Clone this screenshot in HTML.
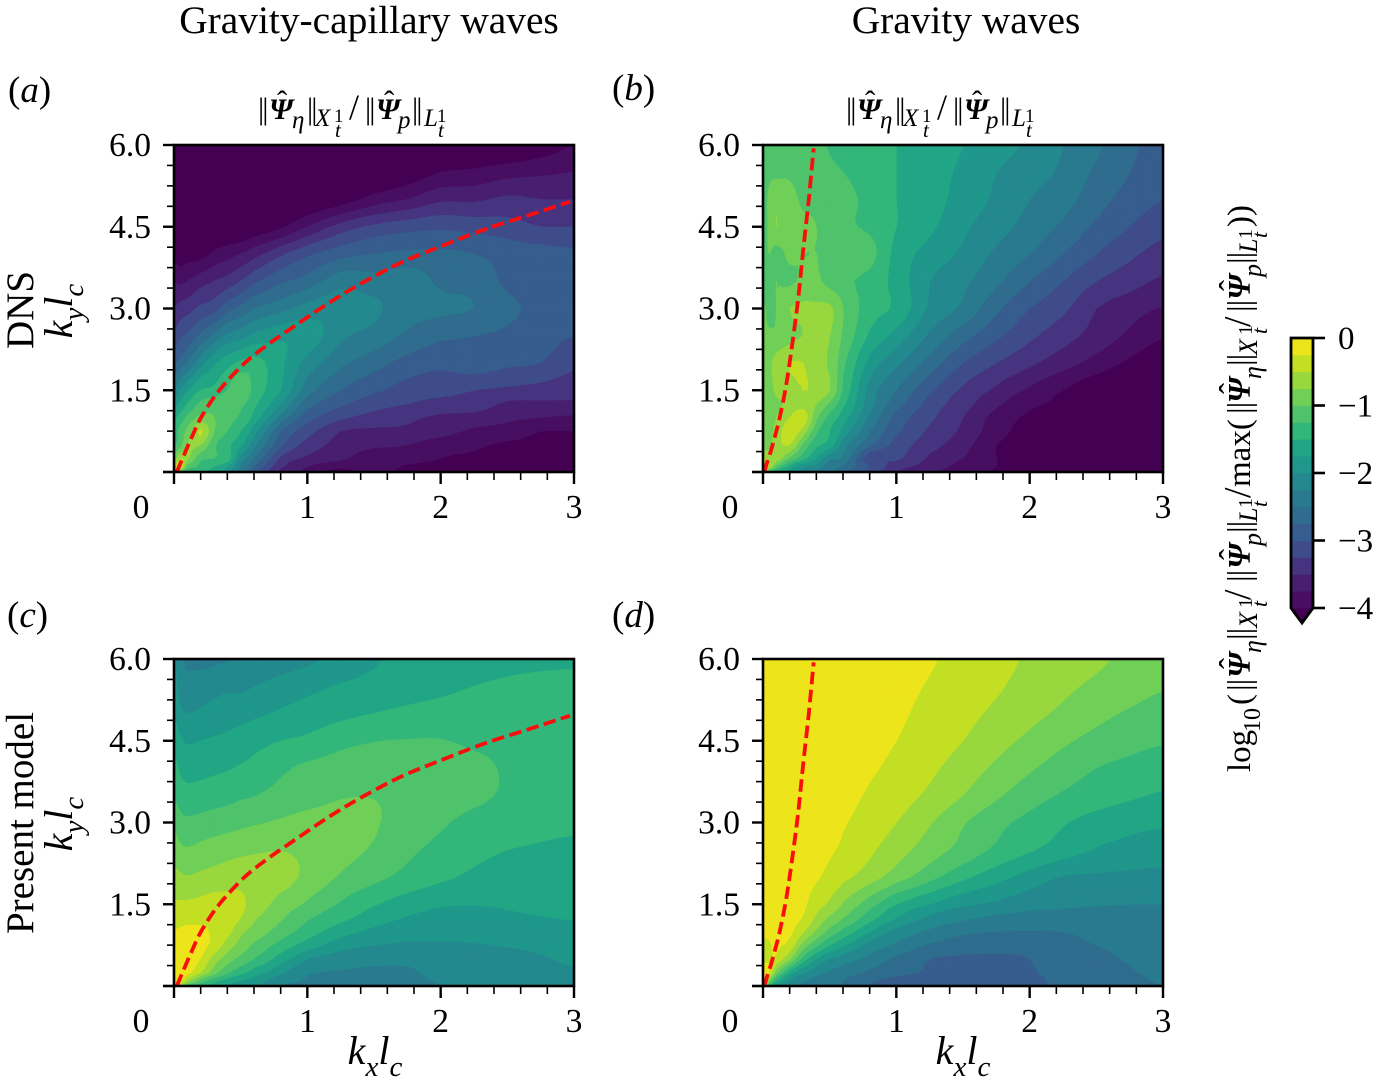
<!DOCTYPE html>
<html>
<head>
<meta charset="utf-8">
<title>Gravity-capillary and gravity wave contour panels</title>
<style>
html,body{margin:0;padding:0;background:#fff;}
svg{display:block;}
text{font-family:"Liberation Serif","DejaVu Serif",serif;fill:#000;}
.i{font-style:italic;}
.bi{font-style:italic;font-weight:bold;}
</style>
</head>
<body>
<svg id="figure" xmlns="http://www.w3.org/2000/svg" width="1373" height="1089" viewBox="0 0 1373 1089">
  <rect width="1373" height="1089" fill="#fff"/>
  <g id="panels"></g>
  <g id="colorbar"></g>

  <text x="369" y="33" font-size="39.4" text-anchor="middle">Gravity-capillary waves</text>
  <text x="966" y="33" font-size="39.4" text-anchor="middle">Gravity waves</text>

  <text x="8" y="102" font-size="37">(<tspan class="i">a</tspan>)</text>
  <text x="612" y="100" font-size="37">(<tspan class="i">b</tspan>)</text>
  <text x="7" y="627" font-size="37">(<tspan class="i">c</tspan>)</text>
  <text x="612" y="627" font-size="37">(<tspan class="i">d</tspan>)</text>

  <text transform="translate(258,119)" font-size="31"><tspan x="0" y="0" letter-spacing="-2">||</tspan><tspan class="bi" x="11" y="0" font-size="30">Ψ</tspan><tspan x="19" y="-7">ˆ</tspan><tspan class="i" x="34" y="9" font-size="25">η</tspan><tspan x="49" y="0" letter-spacing="-2">||</tspan><tspan class="i" x="57" y="7" font-size="25">X</tspan><tspan x="76" y="3" font-size="19">1</tspan><tspan class="i" x="77" y="18" font-size="21">t</tspan><tspan x="91" y="0" font-size="36">/</tspan><tspan x="107" y="0" letter-spacing="-2">||</tspan><tspan class="bi" x="118" y="0" font-size="30">Ψ</tspan><tspan x="126" y="-7">ˆ</tspan><tspan class="i" x="140" y="9" font-size="25">p</tspan><tspan x="154" y="0" letter-spacing="-2">||</tspan><tspan class="i" x="166" y="7" font-size="25">L</tspan><tspan x="179" y="3" font-size="19">1</tspan><tspan class="i" x="180" y="18" font-size="21">t</tspan></text>
  <text transform="translate(846,119)" font-size="31"><tspan x="0" y="0" letter-spacing="-2">||</tspan><tspan class="bi" x="11" y="0" font-size="30">Ψ</tspan><tspan x="19" y="-7">ˆ</tspan><tspan class="i" x="34" y="9" font-size="25">η</tspan><tspan x="49" y="0" letter-spacing="-2">||</tspan><tspan class="i" x="57" y="7" font-size="25">X</tspan><tspan x="76" y="3" font-size="19">1</tspan><tspan class="i" x="77" y="18" font-size="21">t</tspan><tspan x="91" y="0" font-size="36">/</tspan><tspan x="107" y="0" letter-spacing="-2">||</tspan><tspan class="bi" x="118" y="0" font-size="30">Ψ</tspan><tspan x="126" y="-7">ˆ</tspan><tspan class="i" x="140" y="9" font-size="25">p</tspan><tspan x="154" y="0" letter-spacing="-2">||</tspan><tspan class="i" x="166" y="7" font-size="25">L</tspan><tspan x="179" y="3" font-size="19">1</tspan><tspan class="i" x="180" y="18" font-size="21">t</tspan></text>

  <text transform="translate(33,310) rotate(-90)" font-size="39" text-anchor="middle">DNS</text>
  <text transform="translate(33,823) rotate(-90)" font-size="39" text-anchor="middle">Present model</text>

  <text transform="translate(72,311) rotate(-90)" font-size="40" text-anchor="middle" class="i">k<tspan font-size="29" dy="11">y</tspan><tspan dy="-11">l</tspan><tspan font-size="29" dy="11">c</tspan></text>
  <text transform="translate(72,824) rotate(-90)" font-size="40" text-anchor="middle" class="i">k<tspan font-size="29" dy="11">y</tspan><tspan dy="-11">l</tspan><tspan font-size="29" dy="11">c</tspan></text>
  <text x="375" y="1064" font-size="40" text-anchor="middle" class="i">k<tspan font-size="29" dy="12">x</tspan><tspan dy="-12">l</tspan><tspan font-size="29" dy="12">c</tspan></text>
  <text x="963" y="1064" font-size="40" text-anchor="middle" class="i">k<tspan font-size="29" dy="12">x</tspan><tspan dy="-12">l</tspan><tspan font-size="29" dy="12">c</tspan></text>

  <text transform="translate(1250,772) rotate(-90)" font-size="33"><tspan x="0" y="0">log</tspan><tspan x="40" y="10" font-size="24">10</tspan><tspan x="67" y="0">(</tspan><tspan x="81" y="0" letter-spacing="-1">||</tspan><tspan class="bi" x="94" y="0" font-size="32">Ψ</tspan><tspan x="103" y="-8">ˆ</tspan><tspan class="i" x="119" y="11" font-size="26">η</tspan><tspan x="132" y="0" letter-spacing="-1">||</tspan><tspan class="i" x="144" y="7" font-size="26">X</tspan><tspan x="164" y="2" font-size="20">1</tspan><tspan class="i" x="165" y="17" font-size="22">t</tspan><tspan x="172" y="0" font-size="38">/</tspan><tspan x="190" y="0" letter-spacing="-1">||</tspan><tspan class="bi" x="203" y="0" font-size="32">Ψ</tspan><tspan x="212" y="-8">ˆ</tspan><tspan class="i" x="226" y="11" font-size="26">p</tspan><tspan x="239" y="0" letter-spacing="-1">||</tspan><tspan class="i" x="250" y="7" font-size="26">L</tspan><tspan x="264" y="2" font-size="20">1</tspan><tspan class="i" x="265" y="17" font-size="22">t</tspan><tspan x="274" y="0" font-size="38">/</tspan><tspan x="285" y="0">max(</tspan><tspan x="358" y="0" letter-spacing="-1">||</tspan><tspan class="bi" x="369" y="0" font-size="32">Ψ</tspan><tspan x="378" y="-8">ˆ</tspan><tspan class="i" x="393" y="11" font-size="26">η</tspan><tspan x="406" y="0" letter-spacing="-1">||</tspan><tspan class="i" x="417" y="7" font-size="26">X</tspan><tspan x="437" y="2" font-size="20">1</tspan><tspan class="i" x="438" y="17" font-size="22">t</tspan><tspan x="445" y="0" font-size="38">/</tspan><tspan x="460" y="0" letter-spacing="-1">||</tspan><tspan class="bi" x="472" y="0" font-size="32">Ψ</tspan><tspan x="481" y="-8">ˆ</tspan><tspan class="i" x="495" y="11" font-size="26">p</tspan><tspan x="508" y="0" letter-spacing="-1">||</tspan><tspan class="i" x="519" y="7" font-size="26">L</tspan><tspan x="533" y="2" font-size="20">1</tspan><tspan class="i" x="534" y="17" font-size="22">t</tspan><tspan x="545" y="0">))</tspan></text>
</svg>

<script>
// ---- Grid coordinates (k_x l_c, k_y l_c) ----
const kxGrid = [0,.05,.1,.2,.3,.4,.5,.6,.8,1,1.25,1.5,1.75,2,2.25,2.5,2.75,3];
const kyGrid = [0,.1,.25,.5,.75,1,1.25,1.5,2,2.5,3,3.5,4,4.5,5,5.5,6];

// ---- Contour levels and colours ----
const contourLevels = [-4,-3.75,-3.5,-3.25,-3,-2.75,-2.5,-2.25,-2,-1.75,-1.5,-1.25,-1,-.75,-.5,-.25];
const bandColors = ['#470e61','#481f70','#463480','#3e4c8a','#365d8d','#2f6c8e','#297a8e','#23898e','#1f978b','#21a685','#33b67a','#4ec36b','#70cf57','#98d83e','#c2df23','#ede51b'];
const underColor = '#440154';

// ---- Tick values ----
const xTickValues = [0,1,2,3];
const xTickLabels = ['0','1','2','3'];
const xMinorTicks = [.2,.4,.6,.8,1.2,1.4,1.6,1.8,2.2,2.4,2.6,2.8];
const yTickValues = [1.5,3,4.5,6];
const yTickLabels = ['1.5','3.0','4.5','6.0'];
const yMinorTicks = [.375,.75,1.125,1.875,2.25,2.625,3.375,3.75,4.125,4.875,5.25,5.625];
const colorbarTickValues = [0,-1,-2,-3,-4];
const colorbarTickLabels = ['0','−1','−2','−3','−4'];

// ---- Dispersion-curve series ----
const capillaryCurveKx = [.02,.04,.126,.21,.34,.53,.7,.87,1.16,1.42,1.71,1.99,2.34,2.71,2.97];
const capillaryCurveKy = [0,.11,.6,1.03,1.5,2.0,2.33,2.62,3.1,3.48,3.85,4.13,4.46,4.75,4.96];
const gravityCurveKx = [.01,.03,.057,.09,.13,.186,.258,.3,.344,.38];
const gravityCurveKy = [0,.17,.37,.66,1.05,1.78,3.06,4.04,5.02,5.94];

// ---- Panel (a) DNS, gravity-capillary: log10 values, one row per kyGrid ----
const panelAValues = [
[-.5,-1.2,-1.4,-1.5,-1.6,-1.9,-2.4,-2.9,-3.6,-3.8,-4.1,-3.9,-4.1,-4.1,-4.2,-4.2,-4.1,-4.2],
[-.6,-.35,-1.1,-1.3,-1.5,-1.75,-2.3,-2.75,-3.45,-3.75,-3.95,-3.8,-4.05,-4.1,-4.15,-4.15,-4.1,-4.2],
[-.9,-.55,-.7,-1.2,-1.25,-1.35,-2.1,-2.5,-3.3,-3.55,-3.7,-3.9,-3.85,-4.0,-4.05,-4.15,-4.1,-4.1],
[-1.3,-1.1,-.75,-.75,-1.2,-1.45,-1.7,-2.2,-2.95,-3.35,-3.6,-3.7,-3.75,-3.9,-3.95,-4.05,-4.05,-4.1],
[-1.4,-1.15,-.95,-.45,-1.0,-1.25,-1.5,-1.9,-2.75,-3.15,-3.5,-3.55,-3.55,-3.65,-3.8,-3.85,-4.0,-4.0],
[-1.55,-1.4,-1.2,-.95,-1.0,-1.15,-1.3,-1.6,-2.35,-2.9,-3.2,-3.35,-3.45,-3.55,-3.6,-3.7,-3.75,-3.8],
[-1.9,-1.7,-1.5,-1.2,-1.1,-1.1,-1.2,-1.45,-2.0,-2.65,-2.95,-3.15,-3.25,-3.35,-3.35,-3.55,-3.55,-3.55],
[-2.3,-2.0,-1.8,-1.5,-1.45,-1.25,-1.0,-1.35,-1.75,-2.4,-2.75,-2.95,-3.1,-3.15,-3.25,-3.3,-3.35,-3.4],
[-2.8,-2.65,-2.5,-2.1,-1.8,-1.6,-1.45,-1.4,-1.7,-2.1,-2.45,-2.65,-2.85,-2.95,-2.85,-2.95,-3.0,-3.2],
[-3.2,-3.05,-2.95,-2.7,-2.45,-2.2,-2.1,-1.95,-1.8,-1.85,-2.2,-2.35,-2.55,-2.7,-2.75,-2.8,-2.9,-3.0],
[-3.5,-3.4,-3.35,-3.2,-3.1,-2.85,-2.7,-2.5,-2.35,-2.15,-2.1,-2.2,-2.4,-2.45,-2.5,-2.7,-2.8,-2.88],
[-3.75,-3.8,-3.75,-3.6,-3.5,-3.4,-3.25,-3.05,-2.8,-2.65,-2.35,-2.4,-2.35,-2.55,-2.6,-2.8,-2.85,-2.9],
[-4.1,-4.15,-4.1,-4.1,-3.95,-3.85,-3.75,-3.6,-3.3,-3.05,-2.85,-2.75,-2.7,-2.7,-2.75,-2.85,-2.9,-2.95],
[-4.3,-4.3,-4.3,-4.3,-4.3,-4.3,-4.3,-4.2,-4.05,-3.75,-3.4,-3.2,-3.1,-3.05,-3.1,-3.15,-3.25,-3.25],
[-4.4,-4.4,-4.4,-4.4,-4.4,-4.4,-4.4,-4.4,-4.4,-4.3,-4.15,-3.9,-3.75,-3.55,-3.55,-3.45,-3.5,-3.5],
[-4.5,-4.5,-4.5,-4.5,-4.5,-4.5,-4.5,-4.5,-4.5,-4.5,-4.4,-4.3,-4.2,-4.0,-3.95,-3.85,-3.8,-3.75],
[-4.5,-4.5,-4.5,-4.5,-4.5,-4.5,-4.5,-4.5,-4.5,-4.5,-4.5,-4.5,-4.5,-4.4,-4.3,-4.3,-4.15,-4.0]
];

// ---- Panel (b) DNS, gravity ----
const panelBValues = [
[-.5,-1.3,-1.6,-1.9,-2.05,-2.3,-2.4,-2.7,-3.1,-3.5,-3.75,-3.85,-4.05,-4.15,-4.2,-4.3,-4.3,-4.3],
[-.4,-.55,-1.1,-1.6,-2.0,-2.1,-2.4,-2.55,-3.0,-3.4,-3.6,-3.85,-4.0,-4.1,-4.2,-4.25,-4.3,-4.3],
[-.5,-.6,-.6,-1.05,-1.4,-1.75,-2.2,-2.3,-3.2,-3.2,-3.55,-3.75,-4.0,-4.1,-4.2,-4.25,-4.3,-4.3],
[-1.0,-.8,-.6,-.5,-1.05,-1.45,-1.6,-2.15,-2.7,-3.1,-3.4,-3.65,-4.0,-4.1,-4.2,-4.25,-4.3,-4.3],
[-1.0,-.85,-.65,-.35,-.6,-1.2,-1.5,-1.85,-2.5,-2.95,-3.3,-3.55,-3.9,-4.1,-4.15,-4.25,-4.3,-4.3],
[-1.0,-.9,-.75,-.5,-.35,-.95,-1.35,-1.65,-2.3,-2.85,-3.2,-3.5,-3.85,-4.05,-4.15,-4.3,-4.3,-4.3],
[-1.0,-.9,-.8,-.7,-.6,-.75,-1.05,-1.45,-2.15,-2.65,-3.1,-3.4,-3.7,-3.95,-4.05,-4.2,-4.3,-4.3],
[-.95,-.85,-.7,-.6,-.5,-.55,-.75,-1.3,-2.1,-2.5,-2.95,-3.3,-3.55,-3.8,-4.0,-4.2,-4.25,-4.3],
[-.9,-.8,-.65,-.5,-.5,-.65,-.8,-1.2,-1.85,-2.2,-2.6,-3.0,-3.25,-3.45,-3.65,-3.85,-4.05,-4.2],
[-.95,-.95,-.95,-.85,-.75,-.65,-.75,-1.05,-1.55,-1.85,-2.3,-2.65,-2.95,-3.2,-3.4,-3.6,-3.8,-3.98],
[-.95,-1.1,-1.0,-.75,-.7,-.7,-.7,-1.0,-1.4,-1.55,-2.05,-2.3,-2.7,-3.0,-3.2,-3.5,-3.65,-3.77],
[-1.1,-1.05,-1.0,-1.05,-.95,-.95,-1.1,-1.2,-1.35,-1.6,-2.0,-2.2,-2.45,-2.75,-3.0,-3.25,-3.4,-3.55],
[-1.05,-1.0,-1.1,-.95,-1.0,-1.0,-1.05,-1.1,-1.15,-1.6,-1.85,-2.05,-2.3,-2.5,-2.75,-3.0,-3.2,-3.35],
[-1.1,-.95,-.75,-.9,-.95,-1.0,-1.05,-1.2,-1.3,-1.5,-1.7,-1.95,-2.15,-2.35,-2.55,-2.8,-3.0,-3.18],
[-1.1,-.95,-.85,-.9,-1.05,-1.05,-1.1,-1.2,-1.3,-1.5,-1.65,-1.85,-2.05,-2.25,-2.4,-2.65,-2.85,-3.0],
[-1.15,-1.05,-1.05,-1.05,-1.15,-1.15,-1.2,-1.25,-1.35,-1.5,-1.65,-1.8,-2.0,-2.15,-2.3,-2.55,-2.75,-2.9],
[-1.2,-1.2,-1.18,-1.15,-1.2,-1.2,-1.27,-1.35,-1.4,-1.5,-1.6,-1.75,-1.9,-2.05,-2.25,-2.45,-2.7,-2.85]
];

// ---- Panel (c) present model, gravity-capillary ----
const panelCValues = [
[-.05,-.7,-1.1,-1.4,-1.6,-1.75,-1.85,-1.95,-2.25,-2.33,-2.36,-2.4,-2.38,-2.25,-2.2,-2.15,-2.12,-2.1],
[-.05,-.2,-.6,-1.1,-1.4,-1.6,-1.75,-1.85,-2.15,-2.27,-2.32,-2.36,-2.34,-2.22,-2.17,-2.12,-2.1,-2.08],
[-.08,-.1,-.17,-.5,-.9,-1.2,-1.42,-1.62,-1.95,-2.22,-2.27,-2.3,-2.28,-2.18,-2.12,-2.08,-2.05,-2.03],
[-.12,-.12,-.13,-.26,-.62,-.88,-1.08,-1.26,-1.62,-2.0,-2.13,-2.18,-2.2,-2.2,-2.18,-2.12,-2.03,-1.96],
[-.17,-.16,-.15,-.18,-.33,-.62,-.85,-1.05,-1.35,-1.62,-1.9,-2.0,-2.03,-2.03,-2.02,-1.98,-1.92,-1.88],
[-.24,-.22,-.2,-.2,-.3,-.42,-.7,-.85,-1.12,-1.38,-1.65,-1.82,-1.93,-1.94,-1.92,-1.88,-1.83,-1.8],
[-.36,-.34,-.32,-.33,-.32,-.36,-.5,-.72,-.97,-1.22,-1.43,-1.62,-1.77,-1.83,-1.84,-1.79,-1.76,-1.74],
[-.47,-.47,-.46,-.44,-.4,-.42,-.46,-.6,-.85,-1.04,-1.28,-1.48,-1.62,-1.72,-1.74,-1.72,-1.7,-1.69],
[-.67,-.71,-.74,-.7,-.66,-.62,-.58,-.6,-.64,-.82,-1.03,-1.18,-1.33,-1.45,-1.55,-1.6,-1.63,-1.65],
[-.87,-.95,-.98,-.93,-.89,-.85,-.82,-.79,-.76,-.82,-.92,-1.03,-1.2,-1.32,-1.43,-1.5,-1.54,-1.58],
[-1.05,-1.17,-1.2,-1.17,-1.13,-1.1,-1.06,-1.03,-.97,-.92,-.92,-.98,-1.1,-1.22,-1.32,-1.35,-1.4,-1.43],
[-1.28,-1.38,-1.42,-1.4,-1.37,-1.34,-1.29,-1.26,-1.17,-1.1,-1.02,-1.01,-1.07,-1.13,-1.2,-1.28,-1.33,-1.36],
[-1.42,-1.55,-1.6,-1.58,-1.55,-1.52,-1.48,-1.43,-1.3,-1.2,-1.15,-1.12,-1.12,-1.13,-1.18,-1.28,-1.33,-1.36],
[-1.58,-1.72,-1.78,-1.75,-1.72,-1.68,-1.63,-1.58,-1.5,-1.45,-1.32,-1.26,-1.24,-1.24,-1.3,-1.34,-1.38,-1.4],
[-1.77,-1.95,-2.0,-1.97,-1.93,-1.9,-1.85,-1.8,-1.72,-1.65,-1.57,-1.5,-1.45,-1.42,-1.4,-1.4,-1.42,-1.43],
[-1.88,-2.13,-2.16,-2.1,-2.07,-2.04,-2.05,-2.0,-1.9,-1.82,-1.73,-1.67,-1.6,-1.55,-1.5,-1.47,-1.46,-1.46],
[-1.98,-2.2,-2.3,-2.33,-2.3,-2.27,-2.23,-2.22,-2.13,-2.05,-1.93,-1.78,-1.7,-1.64,-1.58,-1.55,-1.53,-1.52]
];

// ---- Panel (d) present model, gravity ----
const panelDValues = [
[-.1,-1.4,-1.9,-2.15,-2.3,-2.4,-2.45,-2.5,-2.75,-2.82,-2.88,-2.9,-2.88,-2.82,-2.7,-2.62,-2.56,-2.5],
[-.1,-.9,-1.5,-2.0,-2.22,-2.35,-2.43,-2.5,-2.72,-2.82,-2.88,-2.9,-2.88,-2.82,-2.68,-2.6,-2.55,-2.48],
[-.15,-.3,-.9,-1.6,-1.95,-2.15,-2.28,-2.38,-2.55,-2.68,-2.78,-2.84,-2.84,-2.78,-2.65,-2.58,-2.52,-2.44],
[-.3,-.28,-.32,-.75,-1.35,-1.75,-2.0,-2.13,-2.33,-2.55,-2.75,-2.79,-2.79,-2.75,-2.6,-2.54,-2.48,-2.4],
[-.3,-.27,-.22,-.35,-.85,-1.2,-1.5,-1.72,-2.1,-2.3,-2.53,-2.63,-2.67,-2.67,-2.57,-2.5,-2.45,-2.37],
[-.2,-.2,-.15,-.2,-.48,-.8,-1.1,-1.33,-1.75,-2.08,-2.3,-2.45,-2.5,-2.51,-2.5,-2.42,-2.37,-2.32],
[-.15,-.15,-.12,-.15,-.27,-.55,-.8,-1.0,-1.4,-1.75,-2.05,-2.2,-2.3,-2.35,-2.3,-2.3,-2.3,-2.28],
[-.1,-.1,-.1,-.12,-.2,-.4,-.55,-.78,-1.15,-1.5,-1.75,-1.95,-2.05,-2.15,-2.22,-2.24,-2.25,-2.25],
[-.08,-.08,-.08,-.1,-.14,-.22,-.33,-.44,-.64,-.88,-1.17,-1.44,-1.66,-1.86,-2.02,-2.04,-2.06,-2.08],
[-.06,-.06,-.07,-.08,-.11,-.16,-.22,-.3,-.46,-.65,-.88,-1.09,-1.3,-1.47,-1.62,-1.77,-1.83,-1.87],
[-.05,-.05,-.05,-.06,-.08,-.12,-.17,-.23,-.36,-.5,-.73,-.98,-1.18,-1.33,-1.48,-1.6,-1.68,-1.72],
[-.04,-.04,-.05,-.06,-.08,-.1,-.14,-.18,-.28,-.39,-.55,-.75,-.96,-1.14,-1.28,-1.38,-1.46,-1.53],
[-.04,-.04,-.04,-.05,-.06,-.08,-.11,-.14,-.22,-.31,-.45,-.62,-.8,-.97,-1.12,-1.25,-1.32,-1.37],
[-.03,-.03,-.04,-.04,-.05,-.07,-.09,-.12,-.18,-.25,-.37,-.5,-.66,-.81,-.96,-1.08,-1.17,-1.23],
[-.03,-.03,-.03,-.04,-.05,-.06,-.08,-.1,-.14,-.21,-.32,-.43,-.55,-.68,-.8,-.93,-1.03,-1.1],
[-.02,-.02,-.03,-.03,-.04,-.05,-.07,-.09,-.12,-.18,-.27,-.37,-.47,-.59,-.7,-.8,-.9,-.98],
[-.02,-.02,-.02,-.03,-.04,-.05,-.06,-.08,-.1,-.16,-.23,-.32,-.43,-.53,-.62,-.71,-.8,-.87]
];

// ---- Rendering ----
const SVG_NS = 'http://www.w3.org/2000/svg';
const panelsRoot = document.getElementById('panels');
const colorbarRoot = document.getElementById('colorbar');
const KX_MAX = 3, KY_MAX = 6, REFINE = 3;

function mk(tag, attrs, parent) {
  const el = document.createElementNS(SVG_NS, tag);
  for (const k in attrs) el.setAttribute(k, attrs[k]);
  parent.appendChild(el);
  return el;
}

// Catmull-Rom interpolation of a sequence at fractional index.
function crAt(seq, t) {
  const n = seq.length;
  const i = Math.min(Math.floor(t), n - 2);
  const f = t - i;
  const p1 = seq[i], p2 = seq[i + 1];
  if (f === 0) return p1;
  const p0 = i > 0 ? seq[i - 1] : p1;
  const p3 = i + 2 < n ? seq[i + 2] : p2;
  const v = 0.5 * ((2 * p1) + (-p0 + p2) * f + (2 * p0 - 5 * p1 + 4 * p2 - p3) * f * f + (-p0 + 3 * p1 - 3 * p2 + p3) * f * f * f);
  const lo = Math.min(p1, p2) - 0.08, hi = Math.max(p1, p2) + 0.08;
  return Math.max(lo, Math.min(hi, v));
}

function linAt(seq, t) {
  const i = Math.min(Math.floor(t), seq.length - 2);
  return seq[i] + (t - i) * (seq[i + 1] - seq[i]);
}

function refineGrid(values) {
  const nx = (kxGrid.length - 1) * REFINE + 1;
  const ny = (kyGrid.length - 1) * REFINE + 1;
  const xs = [], ys = [];
  for (let i = 0; i < nx; i++) xs.push(linAt(kxGrid, i / REFINE));
  for (let j = 0; j < ny; j++) ys.push(linAt(kyGrid, j / REFINE));
  const rowsFine = values.map(row => xs.map((_, i) => crAt(row, i / REFINE)));
  const vals = [];
  for (let j = 0; j < ny; j++) {
    const line = [];
    for (let i = 0; i < nx; i++) line.push(crAt(rowsFine.map(r => r[i]), j / REFINE));
    vals.push(line);
  }
  return { xs: xs, ys: ys, vals: vals };
}

function clipTriangle(tri, level) {
  const out = [];
  for (let i = 0; i < tri.length; i++) {
    const a = tri[i], b = tri[(i + 1) % tri.length];
    const aIn = a[2] >= level, bIn = b[2] >= level;
    if (aIn) out.push(a);
    if (aIn !== bIn) {
      const t = (level - a[2]) / (b[2] - a[2]);
      out.push([a[0] + t * (b[0] - a[0]), a[1] + t * (b[1] - a[1]), level]);
    }
  }
  return out;
}

function bandPath(grid, level, nextLevel, xScale, yScale) {
  const parts = [];
  const addTri = (tri) => {
    if (nextLevel !== undefined && tri[0][2] >= nextLevel + .02 && tri[1][2] >= nextLevel + .02 && tri[2][2] >= nextLevel + .02) return;
    const poly = clipTriangle(tri, level);
    if (poly.length < 3) return;
    parts.push('M' + poly.map(p => xScale(p[0]).toFixed(1) + ' ' + yScale(p[1]).toFixed(1)).join('L') + 'Z');
  };
  for (let j = 0; j < grid.ys.length - 1; j++) {
    for (let i = 0; i < grid.xs.length - 1; i++) {
      const p00 = [grid.xs[i], grid.ys[j], grid.vals[j][i]];
      const p10 = [grid.xs[i + 1], grid.ys[j], grid.vals[j][i + 1]];
      const p01 = [grid.xs[i], grid.ys[j + 1], grid.vals[j + 1][i]];
      const p11 = [grid.xs[i + 1], grid.ys[j + 1], grid.vals[j + 1][i + 1]];
      addTri([p00, p10, p11]);
      addTri([p00, p11, p01]);
    }
  }
  return parts.join('');
}

function smoothCurve(px, py) {
  let d = 'M' + px[0].toFixed(1) + ' ' + py[0].toFixed(1);
  for (let i = 0; i < px.length - 1; i++) {
    const x0 = px[Math.max(i - 1, 0)], y0 = py[Math.max(i - 1, 0)];
    const x3 = px[Math.min(i + 2, px.length - 1)], y3 = py[Math.min(i + 2, px.length - 1)];
    const c1x = px[i] + (px[i + 1] - x0) / 6, c1y = py[i] + (py[i + 1] - y0) / 6;
    const c2x = px[i + 1] - (x3 - px[i]) / 6, c2y = py[i + 1] - (y3 - py[i]) / 6;
    d += 'C' + [c1x, c1y, c2x, c2y, px[i + 1], py[i + 1]].map(n => n.toFixed(1)).join(' ');
  }
  return d;
}

function drawPanel(id, left, top, values, curveX, curveY, zeroLabelX) {
  const W = 400, H = 327;
  const xScale = (k) => left + k / KX_MAX * W;
  const yScale = (k) => top + H - k / KY_MAX * H;

  const g = mk('g', {}, panelsRoot);
  
  

  const clip = mk('clipPath', { id: 'clip-' + id }, g);
  mk('rect', { x: left, y: top, width: W, height: H }, clip);

  const field = mk('g', { 'clip-path': 'url(#clip-' + id + ')' }, g);
  
  

  const under = mk('rect', { x: left, y: top, width: W, height: H, fill: underColor }, field);
  
  

  const grid = refineGrid(values);
  contourLevels.forEach((level, idx) => {
    const d = bandPath(grid, level, contourLevels[idx + 1], xScale, yScale);
    if (!d) return;
    const band = mk('path', { d: d, fill: bandColors[idx], stroke: bandColors[idx], 'stroke-width': 0.7, 'stroke-linejoin': 'round' }, field);
    
    
  });

  const curve = mk('path', { d: smoothCurve(curveX.map(xScale), curveY.map(yScale)), fill: 'none', stroke: '#fb0d0d', 'stroke-width': 3.8, 'stroke-dasharray': '12.5 5.5' }, field);
  
  

  const spine = mk('rect', { x: left, y: top, width: W, height: H, fill: 'none', stroke: '#000', 'stroke-width': 2.6 }, g);
  
  

  const bottom = top + H;
  xTickValues.forEach((v, i) => {
    const x = xScale(v);
    const tick = mk('line', { x1: x, x2: x, y1: bottom, y2: bottom + 12, stroke: '#000', 'stroke-width': 2.4 }, g);
    
    
    const label = mk('text', { x: i === 0 ? zeroLabelX : x, y: bottom + 46, 'font-size': 33.5, 'text-anchor': 'middle' }, g);
    
    
    label.textContent = xTickLabels[i];
  });
  xMinorTicks.forEach((v) => {
    const x = xScale(v);
    const tick = mk('line', { x1: x, x2: x, y1: bottom, y2: bottom + 8, stroke: '#000', 'stroke-width': 1.6 }, g);
    
    
  });
  const originTick = mk('line', { x1: left - 11, x2: left, y1: bottom, y2: bottom, stroke: '#000', 'stroke-width': 2.6 }, g);
  
  
  yTickValues.forEach((v, i) => {
    const y = yScale(v);
    const tick = mk('line', { x1: left - 11, x2: left, y1: y, y2: y, stroke: '#000', 'stroke-width': 2.4 }, g);
    
    
    const label = mk('text', { x: left - 23, y: y + 11, 'font-size': 33.5, 'text-anchor': 'end' }, g);
    
    
    label.textContent = yTickLabels[i];
  });
  yMinorTicks.forEach((v) => {
    const y = yScale(v);
    const tick = mk('line', { x1: left - 7, x2: left, y1: y, y2: y, stroke: '#000', 'stroke-width': 1.6 }, g);
    
    
  });
}

drawPanel('a', 174, 145, panelAValues, capillaryCurveKx, capillaryCurveKy, 141);
drawPanel('b', 763, 145, panelBValues, gravityCurveKx, gravityCurveKy, 730);
drawPanel('c', 174, 659, panelCValues, capillaryCurveKx, capillaryCurveKy, 141);
drawPanel('d', 763, 659, panelDValues, gravityCurveKx, gravityCurveKy, 730);

function drawColorbar() {
  const left = 1291, width = 22, top = 338, bottom = 608, tip = 623;
  const cbScale = (v) => bottom + (v - contourLevels[0]) / (0 - contourLevels[0]) * (top - bottom);
  const under = mk('polygon', { points: left + ',' + bottom + ' ' + (left + width) + ',' + bottom + ' ' + (left + width / 2) + ',' + tip, fill: underColor }, colorbarRoot);
  
  
  contourLevels.forEach((level, idx) => {
    const upper = idx + 1 < contourLevels.length ? contourLevels[idx + 1] : 0;
    const seg = mk('rect', { x: left, y: cbScale(upper), width: width, height: cbScale(level) - cbScale(upper) + 0.4, fill: bandColors[idx] }, colorbarRoot);
    
    
  });
  const outline = mk('polygon', {
    points: left + ',' + top + ' ' + (left + width) + ',' + top + ' ' + (left + width) + ',' + bottom + ' ' + (left + width / 2) + ',' + tip + ' ' + left + ',' + bottom,
    fill: 'none', stroke: '#000', 'stroke-width': 2.8
  }, colorbarRoot);
  
  
  colorbarTickValues.forEach((v, i) => {
    const y = cbScale(v);
    const tick = mk('line', { x1: left + width, x2: left + width + 12, y1: y, y2: y, stroke: '#000', 'stroke-width': 2.6 }, colorbarRoot);
    
    
    const label = mk('text', { x: 1338, y: y + 11, 'font-size': 33 }, colorbarRoot);
    
    
    label.textContent = colorbarTickLabels[i];
  });
}
drawColorbar();
</script>
</body>
</html>
